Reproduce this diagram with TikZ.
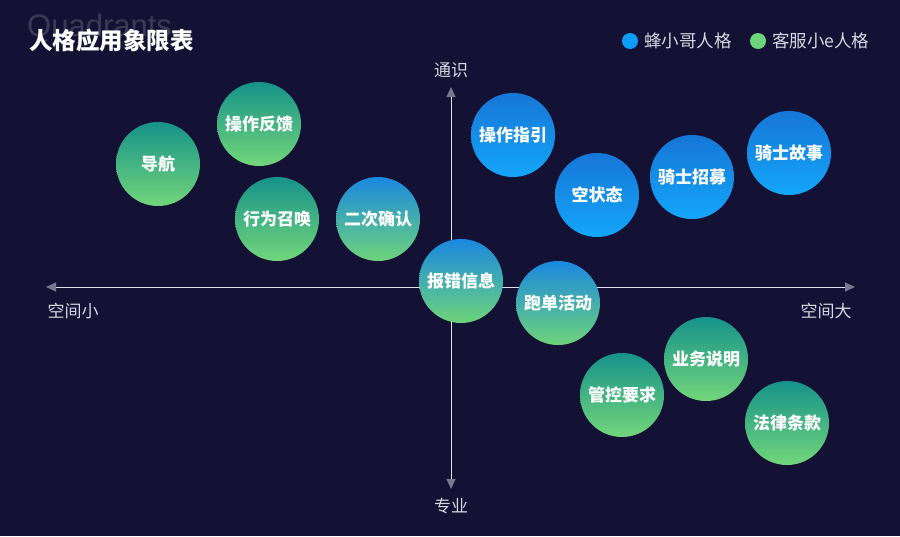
\documentclass[tikz,border=0pt]{standalone}
\usepackage{fontspec}
\newfontfamily\cjk{Noto Sans CJK SC}
\newfontfamily\latinsans{Liberation Sans}
\usetikzlibrary{arrows.meta}
\definecolor{bg}{RGB}{19,18,52}
\definecolor{axisline}{RGB}{225,225,235}
\definecolor{axistip}{RGB}{120,120,145}
\definecolor{labelgray}{RGB}{215,215,225}
\definecolor{ghost}{RGB}{58,58,86}
\definecolor{blueT}{RGB}{22,118,214}
\definecolor{blueB}{RGB}{20,166,250}
\definecolor{greenT}{RGB}{22,146,138}
\definecolor{greenB}{RGB}{114,214,122}
\definecolor{mixT}{RGB}{26,136,224}
\definecolor{mixB}{RGB}{110,212,122}
\definecolor{legblue}{RGB}{10,156,248}
\definecolor{leggreen}{RGB}{108,212,124}
\tikzset{
  bubble/.style={circle, minimum size=84pt, inner sep=0pt, text=white,
    font=\cjk\bfseries\fontsize{17}{20}\selectfont},
  bluebub/.style={bubble, top color=blueT, bottom color=blueB},
  greenbub/.style={bubble, top color=greenT, bottom color=greenB},
  mixbub/.style={bubble, top color=mixT, bottom color=mixB},
  axlabel/.style={text=labelgray, font=\cjk\fontsize{17}{20}\selectfont, inner sep=0pt},
  axis/.style={draw=axisline, line width=1pt,
    {Triangle[length=10pt,width=9pt,color=axistip]}-{Triangle[length=10pt,width=9pt,color=axistip]}},
  legtext/.style={text=labelgray, font=\cjk\fontsize{17.5}{20}\selectfont, inner sep=0pt, anchor=west},
}
\begin{document}
\begin{tikzpicture}[x=1pt,y=-1pt]
\fill[bg] (0,0) rectangle (900,536);
\useasboundingbox (0,0) rectangle (900,536);
% ghost title
\node[anchor=base west, inner sep=0pt, text=ghost, font=\latinsans\fontsize{31}{34}\selectfont] (ghost) at (27,36) {Quadrants};
\node[anchor=west, inner sep=0pt, text=white, font=\cjk\bfseries\fontsize{23.5}{26}\selectfont] (title) at (29,41) {人格应用象限表};
% legend
\node[circle, fill=legblue, minimum size=16pt, inner sep=0pt] (ldot1) at (630,41) {};
\node[legtext] (ltxt1) at (644,41) {蜂小哥人格};
\node[circle, fill=leggreen, minimum size=16pt, inner sep=0pt] (ldot2) at (758,41) {};
\node[legtext] (ltxt2) at (772,41) {客服小e人格};
% axes
\coordinate (left) at (46,287);
\coordinate (right) at (855,287);
\coordinate (top) at (451,87);
\coordinate (bottom) at (451,489);
\draw[axis] (left) -- (right);
\draw[axis] (top) -- (bottom);
\node[axlabel] (tong) at (451,70) {通识};
\node[axlabel] (zhuan) at (451,506) {专业};
\node[axlabel] (xiao) at (73,311) {空间小};
\node[axlabel] (da) at (826,311) {空间大};
% bubbles
\node[greenbub] (daohang) at (158,164) {导航};
\node[greenbub] (fankui) at (259,124) {操作反馈};
\node[greenbub] (zhaohuan) at (277,219) {行为召唤};
\node[mixbub] (queren) at (378,219) {二次确认};
\node[mixbub] (baocuo) at (461,281) {报错信息};
\node[bluebub] (zhiyin) at (513,135) {操作指引};
\node[bluebub] (kong) at (597,195) {空状态};
\node[bluebub] (zhaomu) at (692,177) {骑士招募};
\node[bluebub] (gushi) at (789,153) {骑士故事};
\node[mixbub] (paodan) at (558,303) {跑单活动};
\node[greenbub] (yewu) at (706,359) {业务说明};
\node[greenbub] (guankong) at (622,395) {管控要求};
\node[greenbub] (falv) at (787,423) {法律条款};
\end{tikzpicture}
\end{document}
